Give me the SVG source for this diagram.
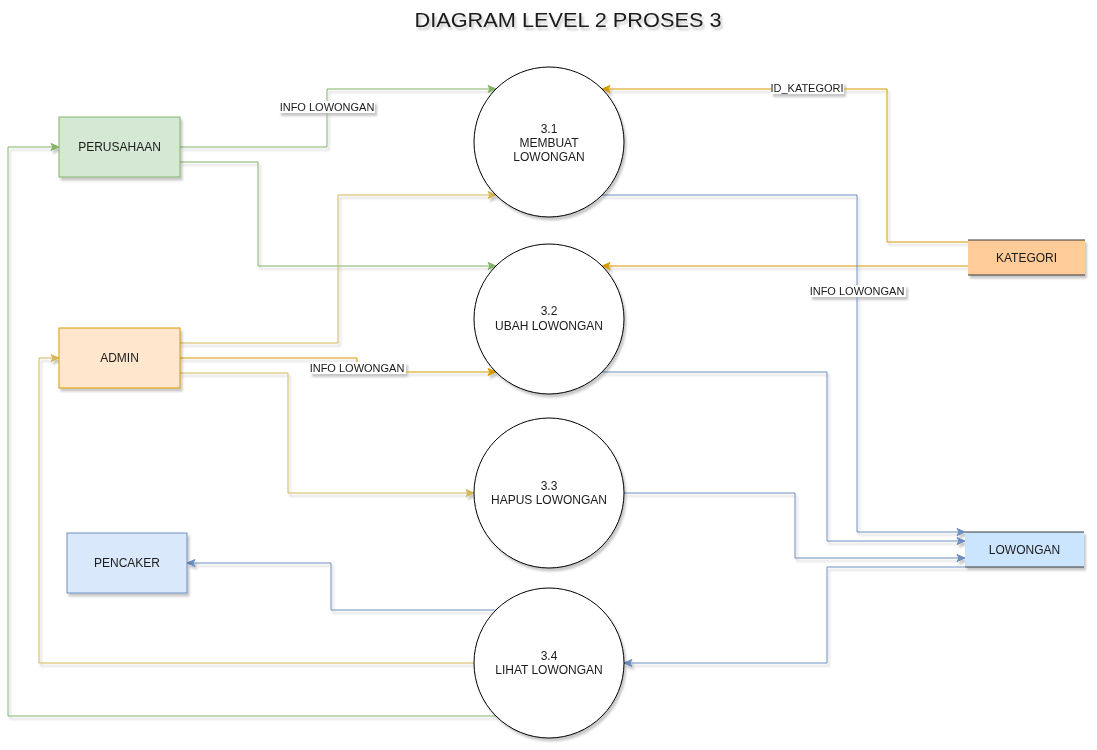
<svg xmlns="http://www.w3.org/2000/svg" width="1097" height="750" viewBox="0 0 1097 750">
<defs>
<filter id="sh" x="-10%" y="-10%" width="130%" height="130%">
<feDropShadow dx="2" dy="3" stdDeviation="1.2" flood-color="#000" flood-opacity="0.22"/>
</filter>
<marker id="aG" markerUnits="userSpaceOnUse" markerWidth="10" markerHeight="10" refX="9" refY="5" orient="auto"><path d="M1,1.5 L9,5 L1,8.5 L3,5 Z" fill="#82b366" stroke="#82b366"/></marker>
<marker id="aY" markerUnits="userSpaceOnUse" markerWidth="10" markerHeight="10" refX="9" refY="5" orient="auto"><path d="M1,1.5 L9,5 L1,8.5 L3,5 Z" fill="#d6b656" stroke="#d6b656"/></marker>
<marker id="aO" markerUnits="userSpaceOnUse" markerWidth="10" markerHeight="10" refX="9" refY="5" orient="auto"><path d="M1,1.5 L9,5 L1,8.5 L3,5 Z" fill="#d79b00" stroke="#d79b00"/></marker>
<marker id="aB" markerUnits="userSpaceOnUse" markerWidth="10" markerHeight="10" refX="9" refY="5" orient="auto"><path d="M1,1.5 L9,5 L1,8.5 L3,5 Z" fill="#6c8ebf" stroke="#6c8ebf"/></marker>
</defs>
<style>
text{font-family:"Liberation Sans",Arial,sans-serif;fill:#1a1a1a}
.nt{font-size:12px;text-anchor:middle}
.lb{font-size:11px;text-anchor:middle}
.e{fill:none;stroke-width:1}
.g{stroke:#82b366}
.y{stroke:#d6b656}
.o{stroke:#d79b00}
.b{stroke:#6c8ebf}
.proc{fill:#fff;stroke:#000;stroke-width:1}
.lbg{fill:#fff}
</style>
<rect width="1097" height="750" fill="#fff"/>
<text x="568" y="27" font-size="20" text-anchor="middle" textLength="307" lengthAdjust="spacingAndGlyphs" filter="url(#sh)">DIAGRAM LEVEL 2 PROSES 3</text>

<g id="connectors" filter="url(#sh)">
<path class="e g" d="M180,147 H327 V89 H496" marker-end="url(#aG)"/>
<path class="e g" d="M180,162 H258 V266 H496" marker-end="url(#aG)"/>
<path class="e y" d="M180,343 H338 V195 H496" marker-end="url(#aY)"/>
<path class="e o" d="M180,358 H357 V372 H496" marker-end="url(#aO)"/>
<path class="e y" d="M180,373 H288 V493 H474" marker-end="url(#aY)"/>
<path class="e o" d="M968,242 H887 V89 H602" marker-end="url(#aO)"/>
<path class="e o" d="M968,266 H602" marker-end="url(#aO)"/>
<path class="e b" d="M602,195 H857 V532 H965" marker-end="url(#aB)"/>
<path class="e b" d="M602,372 H827 V541 H965" marker-end="url(#aB)"/>
<path class="e b" d="M624,493 H795 V558 H965" marker-end="url(#aB)"/>
<path class="e b" d="M965,567 H827 V663 H624" marker-end="url(#aB)"/>
<path class="e b" d="M496,610 H331 V563 H187" marker-end="url(#aB)"/>
<path class="e y" d="M474,663 H39 V358 H59" marker-end="url(#aY)"/>
<path class="e g" d="M496,716 H8 V147 H59" marker-end="url(#aG)"/>
<g id="edge-labels">
<rect class="lbg" x="279" y="101" width="96" height="12"/>
<text class="lb" x="327" y="111">INFO LOWONGAN</text>
<rect class="lbg" x="771" y="82" width="73" height="12"/>
<text class="lb" x="807" y="92">ID_KATEGORI</text>
<rect class="lbg" x="810" y="285" width="96" height="12"/>
<text class="lb" x="857" y="295">INFO LOWONGAN</text>
<rect class="lbg" x="310" y="362" width="96" height="12"/>
<text class="lb" x="357" y="372">INFO LOWONGAN</text>
</g>
</g>

<g id="perusahaan" filter="url(#sh)">
<rect x="59" y="117" width="121" height="60" fill="#d5e8d4" stroke="#82b366"/>
<text class="nt" x="119.5" y="151">PERUSAHAAN</text>
</g>
<g id="admin" filter="url(#sh)">
<rect x="59" y="328" width="121" height="60" fill="#ffe6cc" stroke="#d79b00"/>
<text class="nt" x="119.5" y="362">ADMIN</text>
</g>
<g id="pencaker" filter="url(#sh)">
<rect x="67" y="533" width="120" height="60" fill="#dae8fc" stroke="#6c8ebf"/>
<text class="nt" x="127" y="567">PENCAKER</text>
</g>
<g id="kategori" filter="url(#sh)">
<rect x="968" y="240" width="117" height="35" fill="#ffcc99"/>
<path d="M968,240 H1085 M968,275 H1085" stroke="#36393d" fill="none"/>
<text class="nt" x="1026.5" y="262">KATEGORI</text>
</g>
<g id="lowongan" filter="url(#sh)">
<rect x="965" y="532" width="119" height="35" fill="#cce5ff"/>
<path d="M965,532 H1084 M965,567 H1084" stroke="#36393d" fill="none"/>
<text class="nt" x="1024.5" y="554">LOWONGAN</text>
</g>
<g id="p31" filter="url(#sh)">
<circle class="proc" cx="549" cy="142" r="75"/>
<text class="nt" x="549" y="133">3.1</text>
<text class="nt" x="549" y="147">MEMBUAT</text>
<text class="nt" x="549" y="161">LOWONGAN</text>
</g>
<g id="p32" filter="url(#sh)">
<circle class="proc" cx="549" cy="319" r="75"/>
<text class="nt" x="549" y="315">3.2</text>
<text class="nt" x="549" y="330">UBAH LOWONGAN</text>
</g>
<g id="p33" filter="url(#sh)">
<circle class="proc" cx="549" cy="493" r="75"/>
<text class="nt" x="549" y="490">3.3</text>
<text class="nt" x="549" y="504">HAPUS LOWONGAN</text>
</g>
<g id="p34" filter="url(#sh)">
<circle class="proc" cx="549" cy="663" r="75"/>
<text class="nt" x="549" y="660">3.4</text>
<text class="nt" x="549" y="674">LIHAT LOWONGAN</text>
</g>
</svg>
